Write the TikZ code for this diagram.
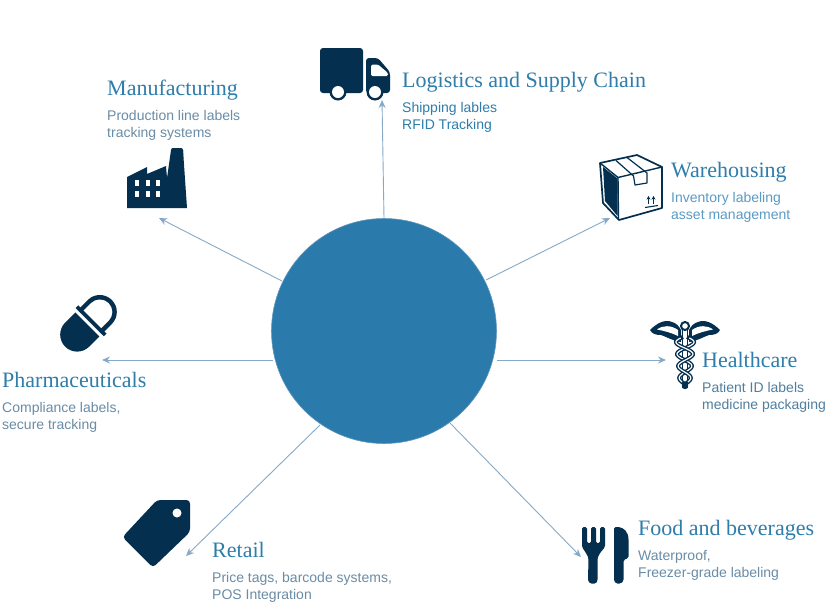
\documentclass[tikz,border=0pt]{standalone}
\usepackage{fontspec}
\setmainfont{Liberation Serif}
\newfontfamily\bodyfont{Liberation Sans}
\usetikzlibrary{arrows.meta}
\definecolor{dk}{HTML}{042F4E}
\definecolor{hub}{HTML}{2A7BAB}
\definecolor{hd}{HTML}{2E7DAB}
\definecolor{arr}{HTML}{86A9C8}
\definecolor{slate}{HTML}{6A8CA6}
\definecolor{sky}{HTML}{5B9BC4}
\definecolor{deep}{HTML}{2E7DAB}
\definecolor{mid}{HTML}{4F7FA0}
\newcommand{\lead}{\rule{0pt}{11pt}}
\tikzset{
  head/.style={anchor=base west,inner sep=0pt,text=hd,font=\fontsize{22}{24}\selectfont},
  body/.style={anchor=north west,inner sep=0pt,align=left,font=\bodyfont\fontsize{14}{17}\selectfont},
  link/.style={draw=arr,line width=0.9pt,-{Stealth[length=8pt,width=7pt]}},
  ink/.style={fill=dk,draw=none}
}
\begin{document}
\begin{tikzpicture}[x=1pt,y=-1pt]
\useasboundingbox (0,0) rectangle (831,611);
\fill[white] (0,0) rectangle (831,611);
% hub
\node[circle,fill=hub,draw=arr!60!hub,line width=0.6pt,minimum size=225pt,inner sep=0pt] (hub) at (384,331) {};
% arrow ends
\coordinate (eL) at (382,100);
\coordinate (eW) at (610,218);
\coordinate (eH) at (666,360);
\coordinate (eF) at (581,557);
\coordinate (eR) at (186,556);
\coordinate (eP) at (102,360);
\coordinate (eM) at (159,218);
\coordinate (sL) at (384,218);
\coordinate (sW) at (486,280);
\coordinate (sH) at (497,360);
\coordinate (sF) at (450,423);
\coordinate (sR) at (320,425);
\coordinate (sP) at (273,360);
\coordinate (sM) at (282,281);
\foreach \k in {L,W,H,F,R,P,M}{\draw[link] (s\k) -- (e\k);}
% texts
\node[head] (tL) at (402,87) {Logistics and Supply Chain};
\node[body,text=deep] (bL) at (402,101) {\lead Shipping lables\\RFID Tracking};
\node[head] (tW) at (671,177) {Warehousing};
\node[body,text=sky] (bW) at (671,191) {\lead Inventory labeling\\asset management};
\node[head] (tH) at (702,367) {Healthcare};
\node[body,text=mid] (bH) at (702,381) {\lead Patient ID labels\\medicine packaging};
\node[head] (tF) at (638,535) {Food and beverages};
\node[body,text=slate] (bF) at (638,549) {\lead Waterproof,\\Freezer-grade labeling};
\node[head] (tR) at (212,557) {Retail};
\node[body,text=slate] (bR) at (212,571) {\lead Price tags, barcode systems,\\POS Integration};
\node[head] (tP) at (2,387) {Pharmaceuticals};
\node[body,text=slate] (bP) at (2,401) {\lead Compliance labels,\\secure tracking};
\node[head] (tM) at (107,95) {Manufacturing};
\node[body,text=slate] (bM) at (107,109) {\lead Production line labels\\tracking systems};
% truck
\fill[ink,rounded corners=3pt] (320,48) rectangle (363,93);
\fill[ink,rounded corners=3pt] (366,58) -- (378,58) -- (390,72) -- (390,93) -- (366,93) -- cycle;
\fill[white,rounded corners=1.5pt] (371,64.5) -- (378,64.5) -- (388,73) -- (388,76) -- (371,76) -- cycle;
\foreach \wx in {338,375}{\fill[dk] (\wx,92) circle (8.5); \fill[white] (\wx,92) circle (6);}
% factory
\fill[ink] (127,208) -- (127,177) -- (147,167) -- (147,174) -- (166,166) -- (167,178) -- (171,150) to[out=-80,in=-100] (183,150) -- (187,208) -- cycle;
\fill[ink,rounded corners=2pt] (171,148) rectangle (183,160);
\foreach \wx in {135,146,156}{\foreach \wy in {180,191}{\fill[white] (\wx,\wy) rectangle +(4,6);}}
% parcel
\fill[white,draw=dk,line width=1.7pt,line join=round] (600,163) -- (637,155) -- (662,167) -- (662,208) -- (619,220) -- (603,203) -- cycle;
\fill[ink] (603,167) -- (617.5,178.5) -- (617.5,216) -- (605,201) -- cycle;
\draw[dk,line width=1.4pt,line join=round] (600,163) -- (618,177.5) -- (662,167);
\draw[dk,line width=1.4pt] (618,177.5) -- (618.5,219);
\draw[dk,line width=1.2pt,line join=round] (616,160.5) -- (633.5,176) -- (635,185) -- (647,183) -- (647,173) -- (627,157.5);
\foreach \ax in {648.5,653.5}{\draw[dk,line width=1.1pt,-{Stealth[length=3.6pt,width=4pt]}] (\ax,204) -- (\ax,196);}
\draw[dk,line width=1.1pt] (645,207.5) -- (658,205.5);
% caduceus
\foreach \sgn in {1,-1}{
\fill[ink] ({685-\sgn*35},330) .. controls ({685-\sgn*28},323) and ({685-\sgn*20},319) .. ({685-\sgn*13},322) .. controls ({685-\sgn*9},323) and ({685-\sgn*6},326) .. ({685-\sgn*4},330) -- ({685-\sgn*4},342) .. controls ({685-\sgn*12},341) and ({685-\sgn*18},337) .. ({685-\sgn*24},335) .. controls ({685-\sgn*29},335) and ({685-\sgn*33},334) .. ({685-\sgn*35},330) -- cycle;
\fill[white] ({685-\sgn*28},329.5) .. controls ({685-\sgn*22},325) and ({685-\sgn*14},325) .. ({685-\sgn*7},330) -- ({685-\sgn*7},336) .. controls ({685-\sgn*13},333) and ({685-\sgn*20},331) .. ({685-\sgn*28},329.5) -- cycle;
}
\draw[dk,fill=white,line width=2pt] (685,326) circle (4);
\fill[white] (682,331) rectangle (688,338);
\draw[dk,line width=1.1pt] (682.7,330) -- (682.7,388) (687.3,330) -- (687.3,388);
\foreach \sgn in {1,-1}{
\draw[dk,line width=4pt] plot[domain=337:384,samples=70] ({685+\sgn*(9.5-(\x-337)*0.09)*sin((\x-337)*15+12)},\x);
\draw[white,line width=1.2pt] plot[domain=338:382,samples=70] ({685+\sgn*(9.5-(\x-337)*0.09)*sin((\x-337)*15+12)},\x);
}
\fill[dk] (685,386) circle (3.2);
% pill
\begin{scope}[shift={(88.5,323.3)},rotate=45]
\begin{scope}
\clip (-40,-40) rectangle (-1.7,40);
\draw[dk,line width=34pt,line cap=round] (-16,0) -- (10,0);
\end{scope}
\begin{scope}
\clip (1.7,-40) rectangle (40,40);
\draw[dk,line width=34pt,line cap=round] (-10,0) -- (16,0);
\draw[white,line width=25pt,line cap=round] (-10,0) -- (16,0);
\fill[dk] (1.7,-20) rectangle (5.5,20);
\end{scope}
\end{scope}
% tag
\fill[ink,rounded corners=3.5pt] (157,500) -- (190,500) -- (190,532) -- (153,567.5) -- (122.5,537) -- cycle;
\fill[white] (177,513) circle (4.5);
% fork
\fill[ink,rounded corners=1.5pt] (582,527) -- (587,527) -- (587,543) -- (591,543) -- (591,527) -- (596,527) -- (596,543) -- (600,543) -- (600,527) -- (605,527) -- (605,547) -- (600,553) -- (597.5,558) -- (597.5,581) -- (596,583.5) -- (590,583.5) -- (588,581) -- (588.5,558) -- (586,553) -- (582,547) -- cycle;
% knife
\fill[ink,rounded corners=1.5pt] (614,527) -- (618,527) .. controls (624,528) and (628.5,532) .. (628.5,541) -- (628.5,558) -- (623.5,560) -- (623.5,581) -- (621,583.5) -- (616,583.5) -- (614,581) -- cycle;
\end{tikzpicture}
\end{document}
